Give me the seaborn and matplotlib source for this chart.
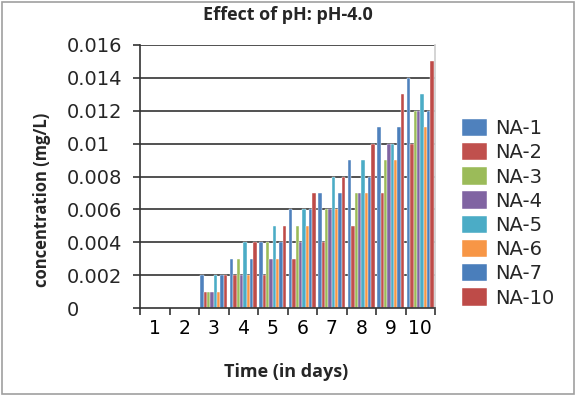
import numpy as np
import pandas as pd
import matplotlib
matplotlib.use("Agg")
import matplotlib.pyplot as plt
from matplotlib.patches import Rectangle
import seaborn as sns

# data
days = ["1", "2", "3", "4", "5", "6", "7", "8", "9", "10"]
series_names = ["NA-1", "NA-2", "NA-3", "NA-4", "NA-5", "NA-6", "NA-7", "NA-10"]
na1 = [0, 0, 0.002, 0.003, 0.004, 0.006, 0.007, 0.009, 0.011, 0.014]
na2 = [0, 0, 0.001, 0.002, 0.002, 0.003, 0.004, 0.005, 0.007, 0.010]
na3 = [0, 0, 0.001, 0.003, 0.004, 0.005, 0.006, 0.007, 0.009, 0.012]
na4 = [0, 0, 0.001, 0.002, 0.003, 0.004, 0.006, 0.007, 0.010, 0.012]
na5 = [0, 0, 0.002, 0.004, 0.005, 0.006, 0.008, 0.009, 0.010, 0.013]
na6 = [0, 0, 0.001, 0.002, 0.003, 0.005, 0.006, 0.007, 0.009, 0.011]
na7 = [0, 0, 0.002, 0.003, 0.004, 0.006, 0.007, 0.008, 0.011, 0.012]
na10 = [0, 0, 0.002, 0.004, 0.005, 0.007, 0.008, 0.010, 0.013, 0.015]
y_ticks = [0, 0.002, 0.004, 0.006, 0.008, 0.01, 0.012, 0.014, 0.016]
y_tick_labels = ["0", "0.002", "0.004", "0.006", "0.008", "0.01", "0.012", "0.014", "0.016"]

COLORS = ["#4F81BD", "#C0504D", "#9BBB59", "#8064A2",
          "#4BACC6", "#F79646", "#4A7EBB", "#BE4B48"]

all_vals = [na1, na2, na3, na4, na5, na6, na7, na10]
df = pd.DataFrame({
    "day": days * len(series_names),
    "series": [s for s in series_names for _ in days],
    "conc": [v for vals in all_vals for v in vals],
})

sns.set_theme(style="white")
plt.rcParams["font.family"] = ["DejaVu Sans"]

fig = plt.figure(figsize=(5.76, 3.96), dpi=100)
ax = fig.add_axes([140 / 576, 1 - 308 / 396, 295 / 576, 263 / 396])

sns.barplot(data=df, x="day", y="conc", hue="series", order=days,
            hue_order=series_names, palette=COLORS, width=0.9, saturation=1,
            edgecolor="white", linewidth=0.3, ax=ax, legend=True)

ax.set_xlim(-0.5, 9.5)
ax.set_ylim(0, 0.016)
ax.set_yticks(y_ticks)
ax.set_yticklabels(y_tick_labels)
for y in y_ticks[1:]:
    ax.axhline(y, color="#333333", lw=1.2, zorder=0)

# x ticks at category boundaries, labels at centres
ax.set_xticks(np.arange(-0.5, 10, 1), minor=True)
ax.tick_params(axis="x", which="minor", bottom=True, length=5, width=1.2, color="#333333")
ax.tick_params(axis="x", which="major", bottom=False, length=0, labelsize=13.5, pad=8, colors="black")
ax.tick_params(axis="y", left=True, length=5, width=1.2, color="#333333",
               labelsize=14, pad=48)
for lbl in ax.get_yticklabels():
    lbl.set_horizontalalignment("left")

ax.spines["top"].set_visible(False)
ax.spines["right"].set_color("#cfcfcf")
ax.spines["left"].set_color("#333333")
ax.spines["bottom"].set_color("#333333")
ax.spines["left"].set_linewidth(1.2)
ax.spines["bottom"].set_linewidth(1.2)

ax.set_xlabel("Time (in days)", fontsize=13, fontweight="bold", family="Open Sans")
ax.xaxis.set_label_coords(0.495, -0.209)
ax.set_ylabel("concentration (mg/L)", fontsize=12, fontweight="bold", family="Open Sans")
ax.yaxis.set_label_coords(-0.30, 0.41)

fig.text(288 / 576, 1 - 15 / 396, "Effect of pH: pH-4.0", ha="center", va="center",
         fontsize=13, fontweight="bold", family="Open Sans")

handles, labels = ax.get_legend_handles_labels()
ax.get_legend().remove()
fig.legend(handles, labels, loc="upper left", bbox_to_anchor=(452 / 576, 1 - 109 / 396),
           frameon=False, fontsize=14, handlelength=1.3, handleheight=1.0,
           handletextpad=0.4, labelspacing=0.25, borderpad=0)

fig.patches.append(Rectangle((0.003, 0.004), 0.994, 0.992, transform=fig.transFigure,
                             fill=False, edgecolor="#a0a0a0", lw=1.2))

fig.savefig("out.png", dpi=100)
